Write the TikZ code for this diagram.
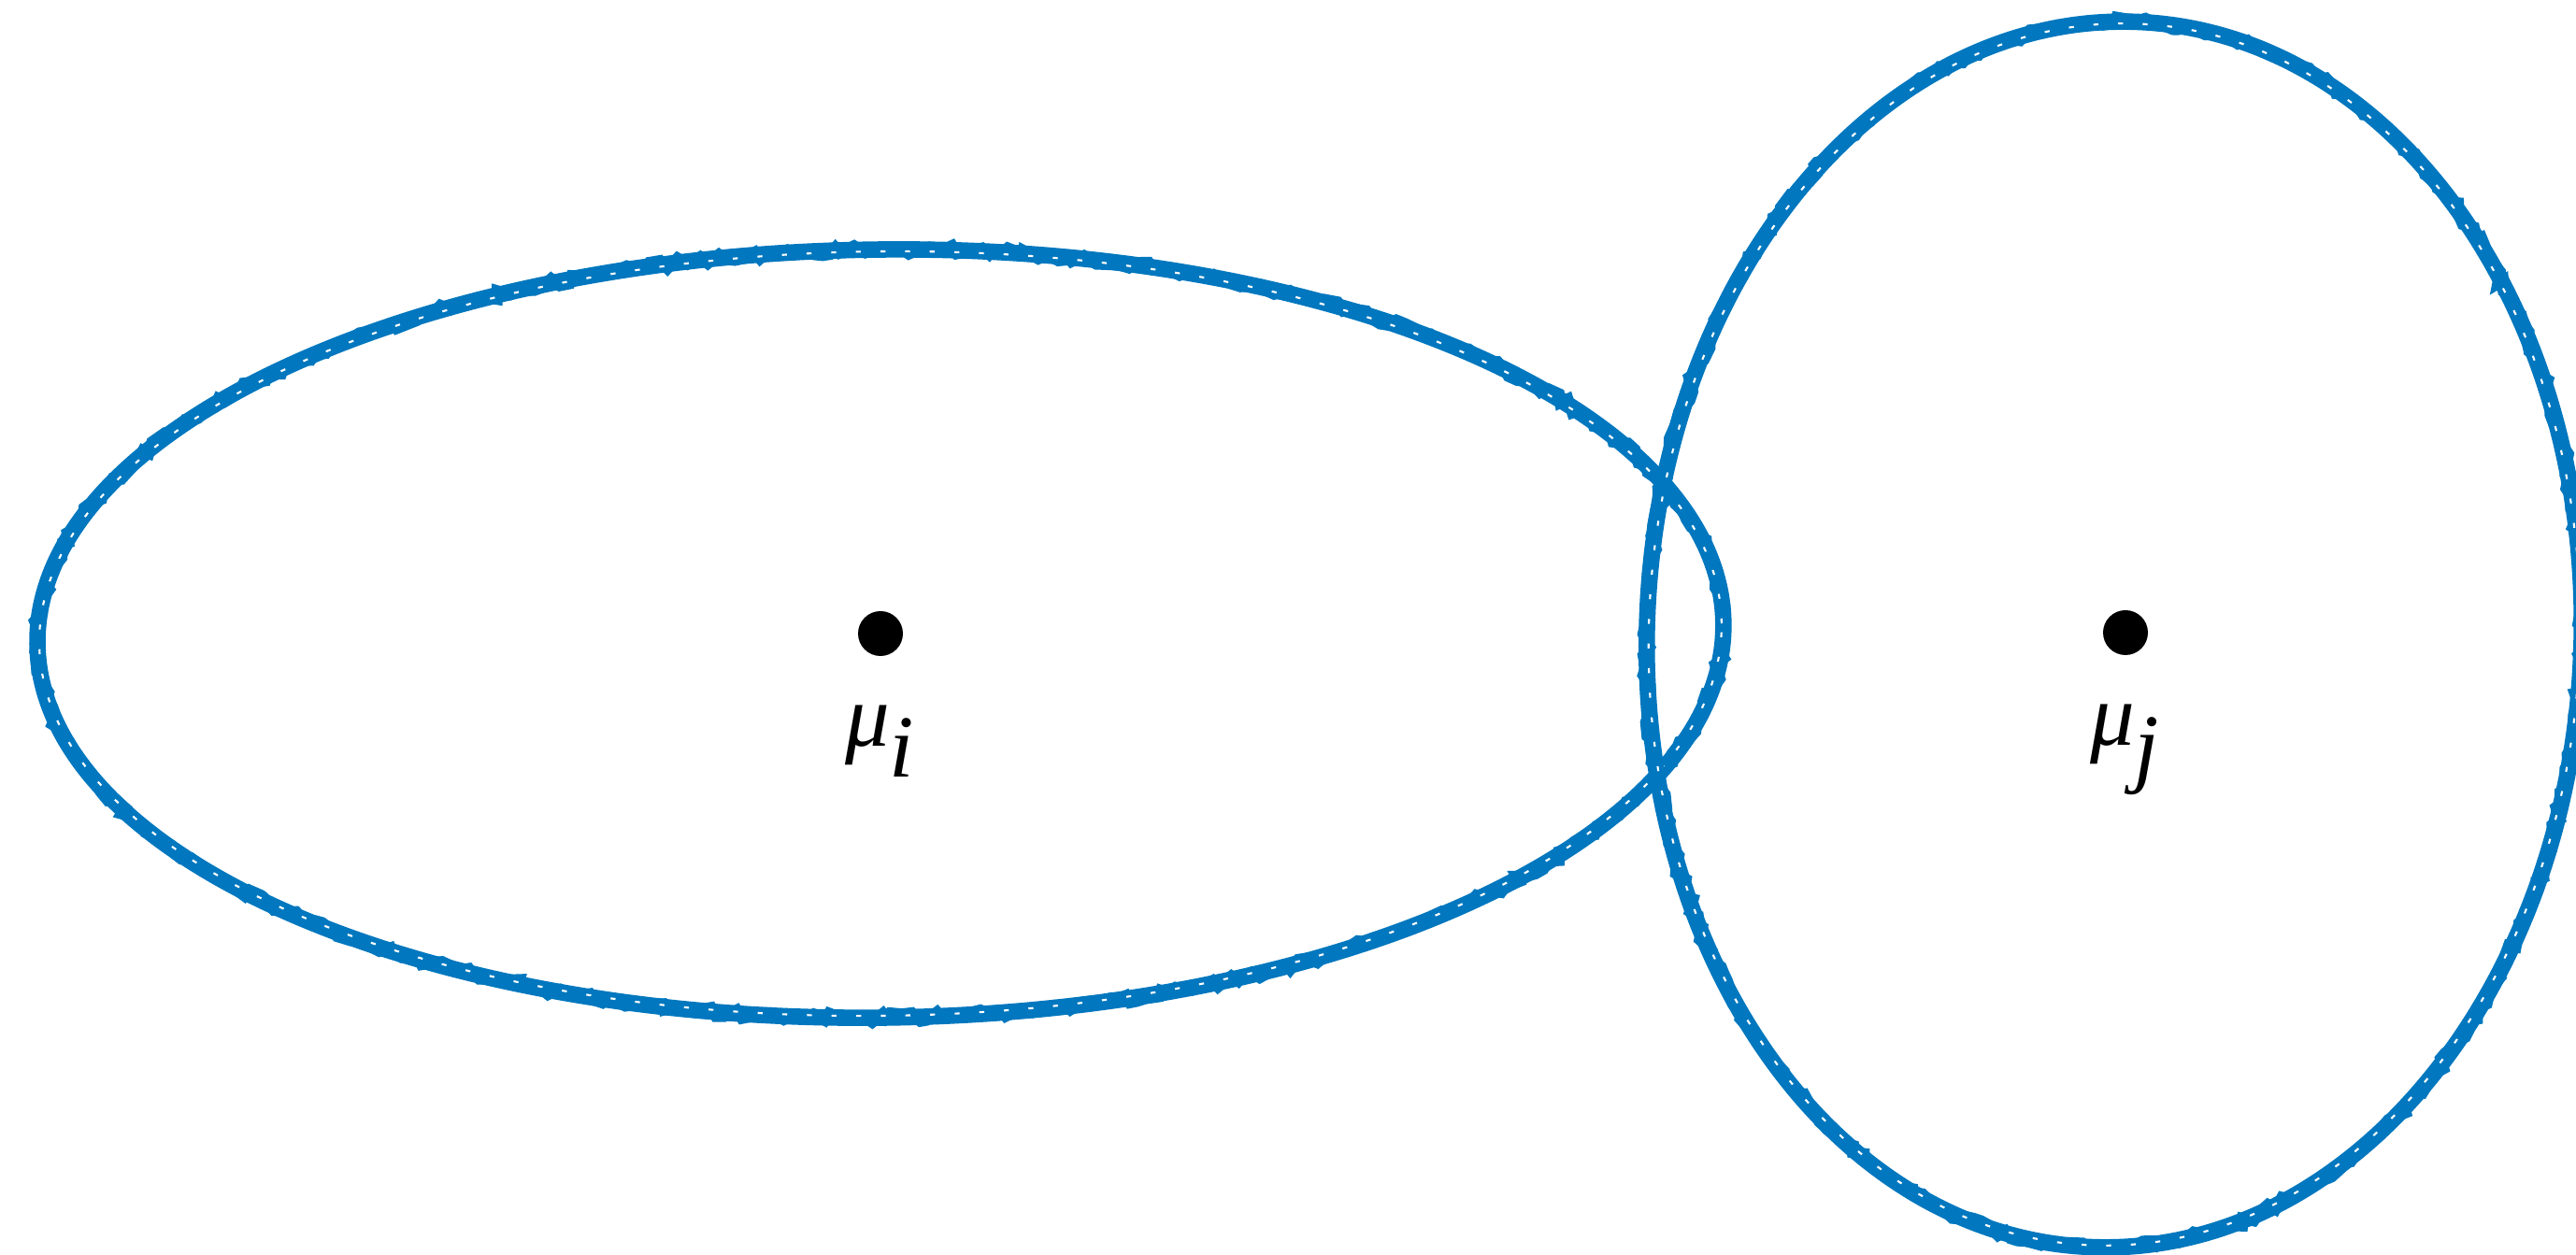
\documentclass[tikz,border=0pt]{standalone}
\usepackage{fontspec}
\setmainfont{Liberation Serif}
\usepackage{tikz}
\usetikzlibrary{positioning,decorations.pathmorphing}
\definecolor{mblue}{RGB}{0,119,190}

\begin{document}
\begin{tikzpicture}[
    node distance=0.52cm,
    meanpt/.style={circle,fill=black,inner sep=0pt,minimum size=0.48cm},
    meanlabel/.style={inner sep=0pt,font=\fontsize{27}{30}\selectfont},
    contour/.style={draw=mblue,line width=5pt},
    rough/.style={draw=mblue,line width=3.4pt,decorate,
      decoration={random steps,segment length=2.5pt,amplitude=1.4pt}},
    specks/.style={draw=white,line width=0.6pt,dash pattern=on 1.5pt off 6pt}
  ]
    \useasboundingbox (0,0) rectangle (27.56,13.43);
    \pgfmathsetseed{7}
    \node[meanpt] (mi) at (9.42,6.65) {};
    \node[meanpt] (mj) at (22.74,6.66) {};
    \node[meanlabel,below=of mi] (li) {\textit{μ}$_{\textit{i}}$};
    \node[meanlabel,below=of mj] (lj) {\textit{μ}$_{\textit{j}}$};
    \coordinate (cj) at (22.62,6.64);
    % covariance contours
    \begin{scope}[rotate around={0.7:(mi.center)}]
      \draw[contour] (mi.center) ellipse [x radius=9.02cm,y radius=4.11cm];
      \draw[rough] (mi.center) ellipse [x radius=9.02cm,y radius=4.11cm];
      \draw[specks] (mi.center) ellipse [x radius=9.0cm,y radius=4.09cm];
    \end{scope}
    \begin{scope}[rotate around={-2:(cj)}]
      \draw[contour] (cj) ellipse [x radius=5.0cm,y radius=6.56cm];
      \draw[rough] (cj) ellipse [x radius=5.0cm,y radius=6.56cm];
      \draw[specks] (cj) ellipse [x radius=4.98cm,y radius=6.54cm];
    \end{scope}
  \end{tikzpicture}
\end{document}
